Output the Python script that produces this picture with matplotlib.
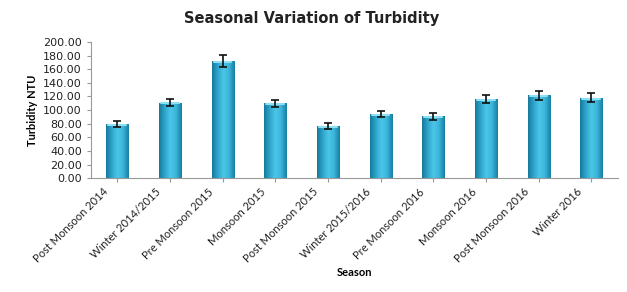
import numpy as np
import matplotlib.pyplot as plt
import matplotlib.transforms as mtransforms
from matplotlib.colors import LinearSegmentedColormap

seasons = ['Post Monsoon 2014', 'Winter 2014/2015', 'Pre Monsoon 2015', 'Monsoon 2015',
           'Post Monsoon 2015', 'Winter 2015/2016', 'Pre Monsoon 2016', 'Monsoon 2016',
           'Post Monsoon 2016', 'Winter 2016']
turbidity = [80, 111, 172, 110, 77, 94, 91, 116, 122, 118]
errors = [4.5, 5.5, 9, 5.5, 4.5, 4.5, 5, 6, 6.5, 6.5]

plt.rcParams['font.family'] = ['Lato', 'DejaVu Sans']

fig = plt.figure(figsize=(6.27, 2.92), dpi=100)
ax = fig.add_axes([0.145, 0.39, 0.84, 0.466])

x = np.arange(len(seasons))
bars = ax.bar(x, turbidity, width=0.42, color='none', edgecolor='none', zorder=2)

# cylinder-like shading for each bar
cmap = LinearSegmentedColormap.from_list('cyl', ['#17799a', '#2ea6cc', '#4cc6e8', '#3ab4da', '#1a7fa2'])
grad = np.linspace(0, 1, 64).reshape(1, -1)
for b in bars:
    x0, w, h = b.get_x(), b.get_width(), b.get_height()
    im = ax.imshow(grad, cmap=cmap, aspect='auto', extent=[x0, x0 + w, 0, h], zorder=2)
    im.set_clip_path(b)
    # lighter top cap
    ax.plot([x0 + w * 0.1, x0 + w * 0.9], [h - 1.2, h - 1.2], color='#8fe0f5', lw=1.5,
            solid_capstyle='round', zorder=2.5)

ax.errorbar(x, turbidity, yerr=errors, fmt='none', ecolor='#111111', elinewidth=1.2,
            capsize=3, capthick=1.2, zorder=3)

ax.set_xlim(-0.5, len(seasons) - 0.5)
ax.set_ylim(0, 200)
ax.set_yticks(np.arange(0, 201, 20))
ax.set_yticklabels([f'{v:.2f}' for v in range(0, 201, 20)], fontsize=8, family='DejaVu Sans')
ax.set_xticks(x)
ax.set_xticklabels([])

# rotated category labels, anchored a little left of each tick like the original
shift = mtransforms.ScaledTranslation(-15 / 100, -8 / 100, fig.dpi_scale_trans)
for xi, name in zip(x, seasons):
    ax.text(xi, 0, name, rotation=45, ha='right', va='top', rotation_mode='anchor',
            fontsize=8, color='#222222', transform=ax.get_xaxis_transform() + shift)

for s in ['top', 'right']:
    ax.spines[s].set_visible(False)
for s in ['left', 'bottom']:
    ax.spines[s].set_color('#999999')
ax.tick_params(axis='both', colors='#999999', labelcolor='#222222', length=3)

ax.set_ylabel('Turbidity NTU', fontsize=8, fontweight='bold', labelpad=4)
ax.set_xlabel('Season', fontsize=8, fontweight='bold')
ax.xaxis.set_label_coords(0.5, -0.65)
fig.text(0.497, 0.935, 'Seasonal Variation of Turbidity', ha='center', va='center',
         fontsize=10.5, fontweight='bold', color='#222222', family='DejaVu Sans')

fig.savefig('out.png', dpi=100)
